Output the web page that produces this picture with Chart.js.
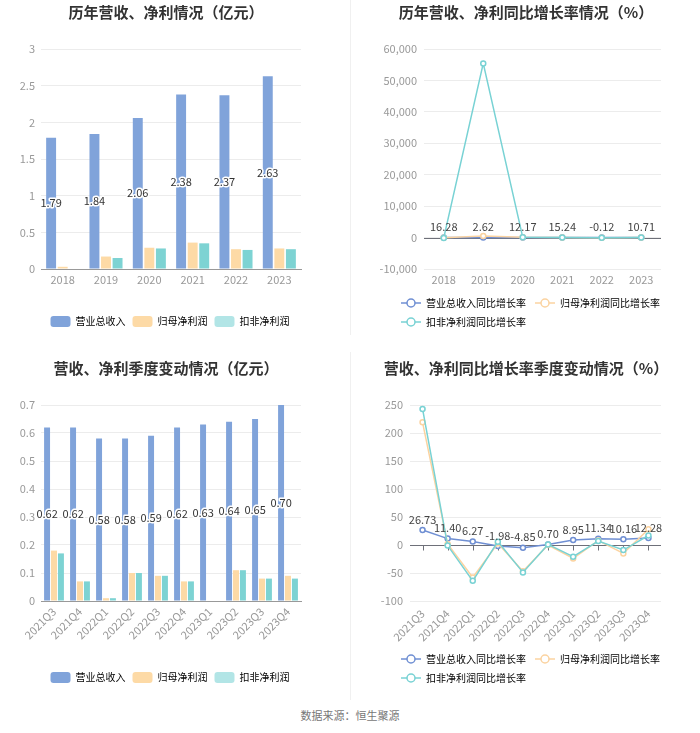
<!DOCTYPE html>
<html>
<head>
<meta charset="utf-8">
<script src="https://cdn.jsdelivr.net/npm/chart.js@4.4.1/dist/chart.umd.min.js"></script>
<style>
  body { margin: 0; background: #fff; }
  #page { position: relative; width: 700px; height: 733px; overflow: hidden; font-family: "Noto Sans CJK SC", "Noto Sans", sans-serif; }
  .box { position: absolute; }
  .box canvas { position: absolute; left: 0; top: 0; }
  .title { position: absolute; top: 2px; left: 0; text-align: center; font-size: 15px; font-weight: bold; color: #333; line-height: 20px; white-space: nowrap; }
  .sep { position: absolute; left: 350px; width: 1px; background: #f0f0f0; }
  #source { position: absolute; top: 707px; left: 0; width: 700px; text-align: center; font-size: 11px; line-height: 16px; color: #777; }
</style>
</head>
<body>
<div id="page">
  <div class="sep" style="top:0;height:335px"></div>
  <div class="sep" style="top:352px;height:348px"></div>

  <div class="box" style="left:0;top:0;width:340px;height:340px">
    <canvas id="yearAmount" width="340" height="340"></canvas>
    <div class="title" style="width:332px">历年营收、净利情况（亿元）</div>
  </div>
  <div class="box" style="left:350px;top:0;width:350px;height:340px">
    <canvas id="yearGrowth" width="350" height="340"></canvas>
    <div class="title" style="width:352px">历年营收、净利同比增长率情况（%）</div>
  </div>
  <div class="box" style="left:0;top:356px;width:340px;height:340px">
    <canvas id="quarterAmount" width="340" height="340"></canvas>
    <div class="title" style="width:332px">营收、净利季度变动情况（亿元）</div>
  </div>
  <div class="box" style="left:350px;top:356px;width:350px;height:340px">
    <canvas id="quarterGrowth" width="350" height="340"></canvas>
    <div class="title" style="width:352px">营收、净利同比增长率季度变动情况（%）</div>
  </div>
  <div id="source">数据来源：恒生聚源</div>
</div>

<script>
// yearly figures (亿元) and growth (%)
const years = ['2018', '2019', '2020', '2021', '2022', '2023'];
const yearRevenue = [1.79, 1.84, 2.06, 2.38, 2.37, 2.63];
const yearNetProfit = [0.03, 0.17, 0.29, 0.36, 0.27, 0.28];
const yearDeductedProfit = [0, 0.15, 0.28, 0.35, 0.26, 0.27];
const yearRevenueGrowth = [16.28, 2.62, 12.17, 15.24, -0.12, 10.71];
const yearNetProfitGrowth = [-85, 467, 71, 24, -25, 4];
const yearDeductedGrowth = [-99, 55400, 87, 25, -26, 4];

// quarterly figures
const quarters = ['2021Q3', '2021Q4', '2022Q1', '2022Q2', '2022Q3', '2022Q4', '2023Q1', '2023Q2', '2023Q3', '2023Q4'];
const qRevenue = [0.62, 0.62, 0.58, 0.58, 0.59, 0.62, 0.63, 0.64, 0.65, 0.70];
const qNetProfit = [0.18, 0.07, 0.01, 0.10, 0.09, 0.07, 0, 0.11, 0.08, 0.09];
const qDeductedProfit = [0.17, 0.07, 0.01, 0.10, 0.09, 0.07, 0, 0.11, 0.08, 0.08];
const qRevenueGrowth = [26.73, 11.40, 6.27, -1.98, -4.85, 0.70, 8.95, 11.34, 10.16, 12.28];
const qNetProfitGrowth = [219, 2, -58, 3, -47, 0, -24, 8, -15, 28];
const qDeductedGrowth = [243, -1, -64, 6, -49, 1, -21, 7, -9, 17];

// y axis ticks
const yearAmountTicks = [0, 0.5, 1, 1.5, 2, 2.5, 3];
const yearGrowthTicks = [-10000, 0, 10000, 20000, 30000, 40000, 50000, 60000];
const qAmountTicks = [0, 0.1, 0.2, 0.3, 0.4, 0.5, 0.6, 0.7];
const qGrowthTicks = [-100, -50, 0, 50, 100, 150, 200, 250];

const FONT = '"Noto Sans CJK SC", "Noto Sans", sans-serif';
Chart.defaults.font.family = FONT;
Chart.defaults.font.size = 11;

const blue = '#80a3da';
const orange = '#fddaa6';
const teal = '#7dd3d3';
const tealLight = '#b2e5e6';
const lineBlue = '#6f8fd3';
const lineOrange = '#fbd3a0';
const lineTeal = '#78d2d4';
const gridColor = '#ececec';
const tickColor = '#999';

// values written on the first series
const valueLabels = {
  id: 'valueLabels',
  afterDatasetsDraw(chart) {
    const ctx = chart.ctx;
    chart.data.datasets.forEach((ds, i) => {
      if (!ds.showValues) return;
      const meta = chart.getDatasetMeta(i);
      ctx.save();
      ctx.font = '11px ' + FONT;
      ctx.textAlign = 'center';
      meta.data.forEach((el, j) => {
        const txt = ds.data[j].toFixed(2);
        if (meta.type === 'bar') {
          const y = (el.y + el.base) / 2;
          ctx.textBaseline = 'middle';
          ctx.lineWidth = 3;
          ctx.lineJoin = 'round';
          ctx.strokeStyle = '#fff';
          ctx.strokeText(txt, el.x, y);
          ctx.fillStyle = '#333';
          ctx.fillText(txt, el.x, y);
        } else {
          ctx.textBaseline = 'bottom';
          ctx.fillStyle = '#444';
          ctx.fillText(txt, el.x, el.y - 5);
        }
      });
      ctx.restore();
    });
  }
};

// axis line at value 0 (echarts style)
const zeroAxis = {
  id: 'zeroAxis',
  beforeDatasetsDraw(chart, args, opts) {
    const {ctx, chartArea, scales} = chart;
    const y0 = Math.round(scales.y.getPixelForValue(0)) + 0.5;
    ctx.save();
    ctx.strokeStyle = '#6e7079';
    ctx.lineWidth = 1;
    ctx.beginPath();
    ctx.moveTo(chartArea.left, y0);
    ctx.lineTo(chartArea.right, y0);
    if (opts.ticks) {
      chart.data.labels.forEach((l, i) => {
        const x = Math.round(scales.x.getPixelForValue(i)) + 0.5;
        ctx.moveTo(x, y0);
        ctx.lineTo(x, y0 + 5);
      });
    }
    ctx.stroke();
    ctx.restore();
  }
};

// move the legend box right so rows start under the y labels
const legendShift = {
  id: 'legendShift',
  afterLayout(chart, args, opts) {
    if (chart.legend && opts.dx) chart.legend.left += opts.dx;
  }
};

function lineIcon(color) {
  const c = document.createElement('canvas');
  c.width = 20; c.height = 12;
  const g = c.getContext('2d');
  g.strokeStyle = color;
  g.lineWidth = 1.5;
  g.beginPath(); g.moveTo(0, 6); g.lineTo(20, 6); g.stroke();
  g.beginPath(); g.arc(10, 6, 4, 0, Math.PI * 2);
  g.fillStyle = '#fff'; g.fill(); g.stroke();
  return c;
}

function padAxis(w) {
  return {
    type: 'linear', position: 'right',
    grid: { display: false, drawTicks: false },
    border: { display: false },
    ticks: { display: false },
    afterFit(s) { s.width = w; }
  };
}

function valueAxis(ticks, width, pad, fmt) {
  return {
    min: ticks[0], max: ticks[ticks.length - 1],
    grid: { color: gridColor, drawTicks: false },
    border: { display: false },
    ticks: { color: tickColor, padding: pad, callback: fmt || (v => String(v)) },
    afterBuildTicks(s) { s.ticks = ticks.map(v => ({ value: v })); },
    afterFit(s) { s.width = width; }
  };
}

const barLegend = {
  position: 'bottom',
  labels: {
    boxWidth: 20, boxHeight: 11, padding: 7, color: '#666', font: { size: 10 },
    generateLabels(chart) {
      return chart.data.datasets.map((ds, i) => ({
        text: ds.label, fillStyle: ds.legendColor || ds.backgroundColor,
        strokeStyle: 'rgba(0,0,0,0)', lineWidth: 0, borderRadius: 3,
        datasetIndex: i, hidden: false
      }));
    }
  }
};

const lineLegend = {
  position: 'bottom', align: 'start',
  labels: {
    usePointStyle: true, pointStyleWidth: 20, boxHeight: 10, padding: 9,
    color: '#666', font: { size: 10 },
    generateLabels(chart) {
      return chart.data.datasets.map((ds, i) => ({
        text: ds.label, pointStyle: lineIcon(ds.borderColor),
        fillStyle: '#fff', strokeStyle: ds.borderColor, lineWidth: 0,
        datasetIndex: i, hidden: false
      }));
    }
  }
};

function lineSet(label, data, color, order, showValues) {
  return {
    label, data, order, showValues,
    borderColor: color, borderWidth: 1.5, tension: 0,
    pointRadius: 2.5, pointBorderWidth: 1.5, pointBackgroundColor: '#fff', pointBorderColor: color
  };
}

new Chart(document.getElementById('yearAmount'), {
  type: 'bar',
  data: {
    labels: years,
    datasets: [
      { label: '营业总收入', data: yearRevenue, backgroundColor: blue, showValues: true },
      { label: '归母净利润', data: yearNetProfit, backgroundColor: orange },
      { label: '扣非净利润', data: yearDeductedProfit, backgroundColor: teal, legendColor: tealLight }
    ]
  },
  options: {
    responsive: false, animation: false,
    layout: { padding: { top: 49, bottom: 3, left: 0, right: 0 } },
    datasets: { bar: { categoryPercentage: 0.8, barPercentage: 0.86 } },
    scales: {
      x: {
        grid: { display: false, drawTicks: false }, border: { color: '#999' },
        ticks: { color: tickColor, padding: 4 },
        afterFit(s) { s.height = 40; }
      },
      y: valueAxis(yearAmountTicks, 41, 6),
      pad: padAxis(39)
    },
    plugins: { legend: barLegend, tooltip: { enabled: false } }
  },
  plugins: [valueLabels]
});

new Chart(document.getElementById('yearGrowth'), {
  type: 'line',
  data: {
    labels: years,
    datasets: [
      lineSet('营业总收入同比增长率', yearRevenueGrowth, lineBlue, 2, true),
      lineSet('归母净利润同比增长率', yearNetProfitGrowth, lineOrange, 1, false),
      lineSet('扣非净利润同比增长率', yearDeductedGrowth, lineTeal, 0, false)
    ]
  },
  options: {
    responsive: false, animation: false,
    layout: { padding: { top: 49, bottom: 3, left: 0, right: 0 } },
    scales: {
      x: {
        offset: true, grid: { display: false, drawTicks: false }, border: { display: false },
        ticks: { color: tickColor, padding: 4 },
        afterFit(s) { s.height = 20; }
      },
      y: valueAxis(yearGrowthTicks, 74, 7, v => v.toLocaleString('en-US')),
      pad: padAxis(39)
    },
    plugins: { legend: lineLegend, tooltip: { enabled: false }, zeroAxis: { ticks: false }, legendShift: { dx: 42 } }
  },
  plugins: [zeroAxis, valueLabels, legendShift]
});

new Chart(document.getElementById('quarterAmount'), {
  type: 'bar',
  data: {
    labels: quarters,
    datasets: [
      { label: '营业总收入', data: qRevenue, backgroundColor: blue, showValues: true },
      { label: '归母净利润', data: qNetProfit, backgroundColor: orange },
      { label: '扣非净利润', data: qDeductedProfit, backgroundColor: teal, legendColor: tealLight }
    ]
  },
  options: {
    responsive: false, animation: false,
    layout: { padding: { top: 49, bottom: 3, left: 0, right: 0 } },
    datasets: { bar: { categoryPercentage: 0.8, barPercentage: 0.86 } },
    scales: {
      x: {
        grid: { display: false, drawTicks: false }, border: { color: '#999' },
        ticks: { color: tickColor, padding: 4, minRotation: 45, maxRotation: 45, autoSkip: false },
        afterFit(s) { s.height = 64; }
      },
      y: valueAxis(qAmountTicks, 41, 6),
      pad: padAxis(39)
    },
    plugins: { legend: barLegend, tooltip: { enabled: false } }
  },
  plugins: [valueLabels]
});

new Chart(document.getElementById('quarterGrowth'), {
  type: 'line',
  data: {
    labels: quarters,
    datasets: [
      lineSet('营业总收入同比增长率', qRevenueGrowth, lineBlue, 2, true),
      lineSet('归母净利润同比增长率', qNetProfitGrowth, lineOrange, 1, false),
      lineSet('扣非净利润同比增长率', qDeductedGrowth, lineTeal, 0, false)
    ]
  },
  options: {
    responsive: false, animation: false,
    layout: { padding: { top: 49, bottom: 3, left: 0, right: 0 } },
    scales: {
      x: {
        offset: true, grid: { display: false, drawTicks: false }, border: { display: false },
        ticks: { color: tickColor, padding: 6, minRotation: 45, maxRotation: 45, autoSkip: false },
        afterFit(s) { s.height = 44; }
      },
      y: valueAxis(qGrowthTicks, 60, 7),
      pad: padAxis(39)
    },
    plugins: { legend: lineLegend, tooltip: { enabled: false }, zeroAxis: { ticks: true }, legendShift: { dx: 42 } }
  },
  plugins: [zeroAxis, valueLabels, legendShift]
});
</script>
</body>
</html>
